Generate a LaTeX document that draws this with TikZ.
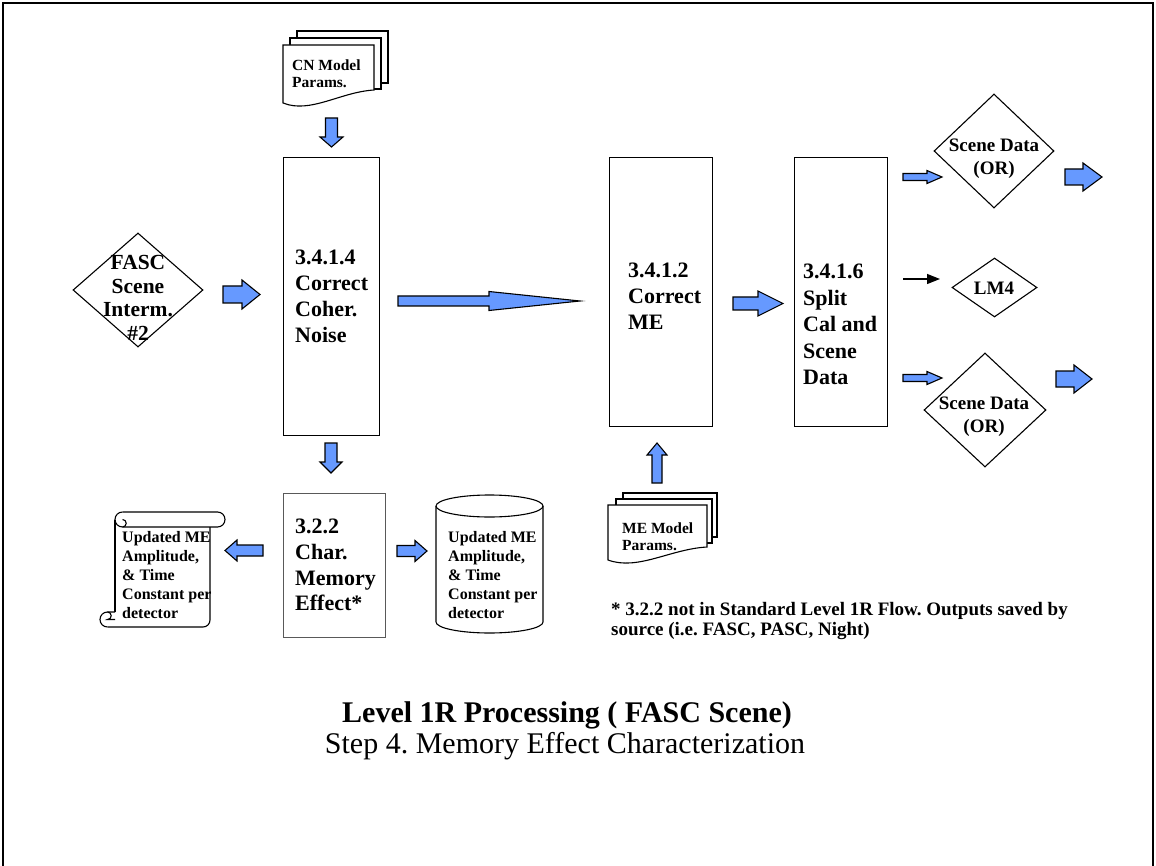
\documentclass[tikz,border=0pt]{standalone}
\usepackage{fontspec}
\setmainfont{Liberation Serif}
\usetikzlibrary{shapes.geometric,arrows.meta}
\definecolor{arrowblue}{RGB}{102,153,255}
\frenchspacing

% horizontal block arrow: tail x, centre y, tip x, shaft half width, head half width, head length (signed)
\newcommand{\bkarrowh}[6]{%
  \draw[blockarr] (#1,{#2-#4}) -- ({#3-(#6)},{#2-#4}) -- ({#3-(#6)},{#2-#5}) -- (#3,#2)
    -- ({#3-(#6)},{#2+#5}) -- ({#3-(#6)},{#2+#4}) -- (#1,{#2+#4}) -- cycle;}
% vertical block arrow: tail y, centre x, tip y, shaft half width, head half width, head length (signed)
\newcommand{\bkarrowv}[6]{%
  \draw[blockarr] ({#2-#4},#1) -- ({#2-#4},{#3-(#6)}) -- ({#2-#5},{#3-(#6)}) -- (#2,#3)
    -- ({#2+#5},{#3-(#6)}) -- ({#2+#4},{#3-(#6)}) -- ({#2+#4},#1) -- cycle;}
% one page of a document symbol: top-left x, y, width, left height
\newcommand{\docpage}[4]{%
  \draw[pageline] (#1,#2) -- ({#1+#3},#2) -- ({#1+#3},{#2+#4-13})
    .. controls ({#1+0.63*#3},{#2+#4-11}) and ({#1+0.3*#3},{#2+#4+11}) .. (#1,{#2+#4}) -- cycle;}

\begin{document}
\begin{tikzpicture}[x=1pt,y=-1pt,
  blockarr/.style={draw=black,line width=1.1pt,fill=arrowblue,line join=miter},
  pageline/.style={draw=black,line width=1.1pt,fill=white},
  procbox/.style={draw=black,line width=1.3pt,anchor=north west,inner sep=0},
  charbox/.style={draw=black!65,line width=0.9pt,anchor=north west,inner sep=0},
  dmd/.style={diamond,draw=black,line width=1.1pt,inner sep=0},
  lbl/.style={inner sep=0,align=left,anchor=north west},
  boxtxt/.style={lbl,font=\fontsize{22}{26}\selectfont\bfseries},
  smalltxt/.style={lbl,font=\fontsize{15.5}{17}\selectfont\bfseries},
  storetxt/.style={lbl,font=\fontsize{16}{19}\selectfont\bfseries},
  dmdtxt/.style={inner sep=0,align=center,anchor=north,font=\fontsize{19}{23}\selectfont\bfseries}]
\useasboundingbox (0,0) rectangle (1156,866);

% page frame
\draw[line width=2pt] (3,866) -- (3,3) -- (1153,3) -- (1153,866);

% CN model parameters (stacked documents)
\draw[pageline] (297,31) rectangle (388,83);
\draw[pageline] (290,38) rectangle (381,89);
\docpage{283}{45}{91}{58}
\node[smalltxt] (cnmodel) at (292,59.5) {CN Model\\Params.};

% ME model parameters (stacked documents)
\draw[pageline] (623,493) rectangle (717,537);
\draw[pageline] (616,499) rectangle (712,543);
\docpage{608}{505}{99}{55}
\node[smalltxt] (memodel) at (622,522.5) {ME Model\\Params.};

% processing boxes
\node[procbox,minimum width=96,minimum height=278] (coh) at (283,157) {};
\node[boxtxt] (cohtxt) at (295,250) {3.4.1.4\\Correct\\Coher.\\Noise};
\node[procbox,minimum width=103,minimum height=269] (cme) at (609,157) {};
\node[boxtxt] (cmetxt) at (628,263) {3.4.1.2\\Correct\\ME};
\node[procbox,minimum width=93,minimum height=269] (split) at (794,157) {};
\node[boxtxt,font=\fontsize{22}{26.5}\selectfont\bfseries] (splittxt) at (803,264) {3.4.1.6\\Split\\Cal and\\Scene\\Data};
\node[charbox,minimum width=102,minimum height=144] (char) at (283,493) {};
\node[boxtxt,font=\fontsize{22}{25.7}\selectfont\bfseries] (chartxt) at (295,519) {3.2.2\\Char.\\Memory\\Effect*};

% decision / data diamonds
\node[dmd,minimum width=130,minimum height=114] (fasc) at (138,290) {};
\node[dmdtxt,font=\fontsize{21.5}{23.5}\selectfont\bfseries] (fasctxt) at (138,255.5) {FASC\\Scene\\Interm.\\\#2};
\node[dmd,minimum width=120,minimum height=114] (sdtop) at (994,151) {};
\node[dmdtxt] (sdtoptxt) at (994,139) {Scene Data\\(OR)};
\node[dmd,minimum width=85,minimum height=59] (lm) at (994.5,287.5) {};
\node[dmdtxt] (lmtxt) at (994,282) {LM4};
\node[dmd,minimum width=122,minimum height=114] (sdbot) at (985,410) {};
\node[dmdtxt] (sdbottxt) at (984,397) {Scene Data\\(OR)};

% scroll: updated ME amplitude and time constant
\draw[line width=1.1pt] (115,519.5) -- (115,612);
\draw[line width=1.1pt] (210,527) -- (210,620) arc[start angle=0,end angle=90,radius=7] -- (107.5,627);
\draw[line width=1.1pt] (122.5,512) -- (217.5,512) arc[start angle=270,end angle=450,radius=7.5] -- (122.5,527);
\draw[line width=1.1pt] (122.5,512) arc[start angle=270,end angle=90,radius=7.5]
  arc[start angle=90,end angle=-90,radius=3.75];
\draw[line width=1.1pt] (107.5,627) arc[start angle=90,end angle=270,radius=7.5] -- (115,612);
\draw[line width=1.1pt] (107.5,612) arc[start angle=270,end angle=450,radius=3.75] -- (115,619.5);
\node[storetxt] (scrolltxt) at (122,531) {Updated ME\\Amplitude,\\\& Time\\Constant per\\detector};

% cylinder store: updated ME amplitude and time constant
\draw[line width=1.1pt] (436,506) -- (436,622) arc[start angle=180,end angle=0,x radius=53.5,y radius=11] -- (543,506);
\draw[line width=1.1pt] (489.5,506) ellipse[x radius=53.5,y radius=11];
\node[storetxt] (cyltxt) at (448,531) {Updated ME\\Amplitude,\\\& Time\\Constant per\\detector};

% block arrows
\bkarrowv{118}{331.5}{147}{6}{11.5}{10}
\bkarrowh{223}{294.5}{260}{8.5}{14.5}{18}
\bkarrowh{398}{301}{580}{5}{9.5}{91}
\bkarrowh{733}{303.5}{783}{6.5}{12.5}{25}
\bkarrowv{443}{331}{473}{6}{11}{11}
\bkarrowv{483}{657}{443}{5}{10}{-12}
\bkarrowh{263}{550.5}{225}{5.5}{10.5}{-12}
\bkarrowh{397}{551}{427}{5.5}{10.5}{12}
\bkarrowh{903}{177}{942}{3.5}{6.5}{15}
\bkarrowh{903}{378}{942}{3.5}{6.5}{15}
\bkarrowh{1065}{177}{1102}{8}{14}{19}
\bkarrowh{1056}{379}{1092}{8}{14}{18}

% plain arrow towards LM4
\coordinate (lmtail) at (903,279);
\coordinate (lmtip) at (940,279);
\draw[line width=1.4pt,-{Triangle[length=13pt,width=10pt]}] (lmtail) -- (lmtip);

% footnote
\node[lbl,font=\fontsize{19}{20.5}\selectfont\bfseries] (note) at (611,602)
  {* 3.2.2 not in Standard Level 1R Flow. Outputs saved by\\source (i.e. FASC, PASC, Night)};

% title
\node[inner sep=0,anchor=base,font=\fontsize{30}{34}\selectfont\bfseries] (title) at (567,722)
  {Level 1R Processing ( FASC Scene)};
\node[inner sep=0,anchor=base,font=\fontsize{30}{34}\selectfont] (subtitle) at (565,753)
  {Step 4. Memory Effect Characterization};
\end{tikzpicture}
\end{document}
